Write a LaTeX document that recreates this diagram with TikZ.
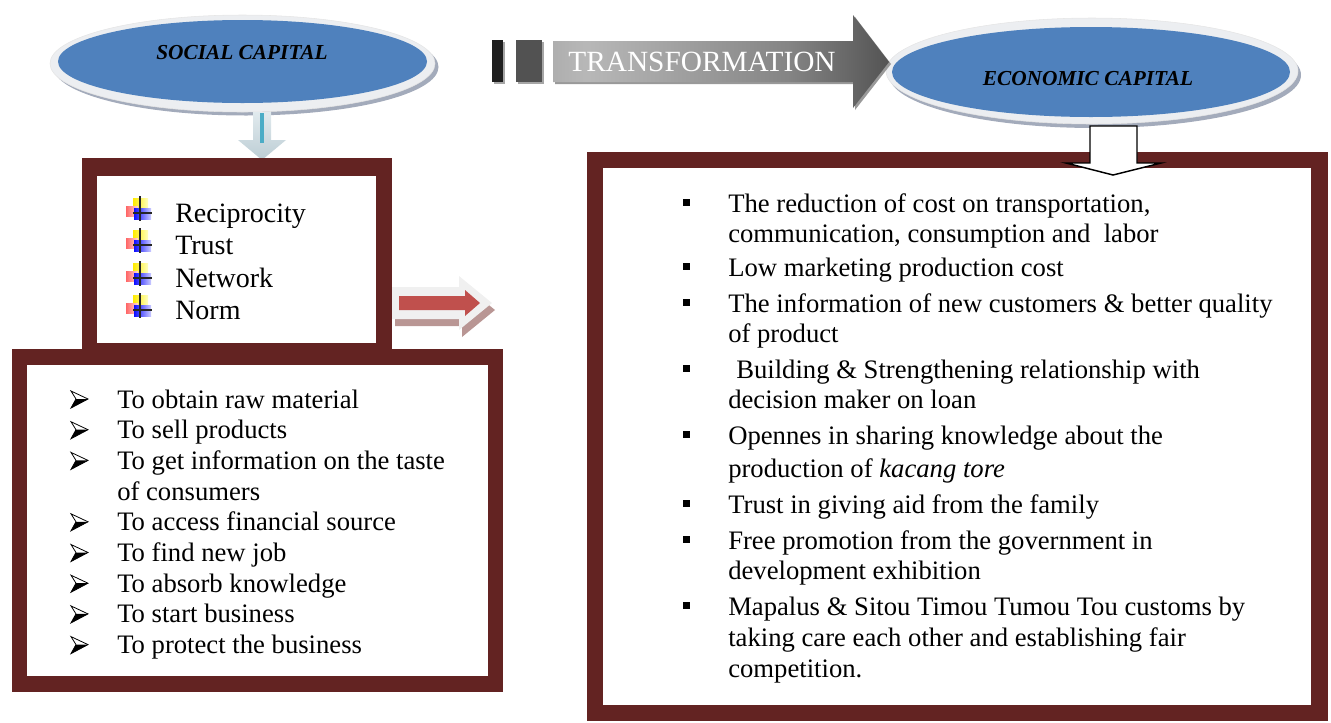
\documentclass[tikz,border=0pt]{standalone}
\usepackage{fontspec}
\setmainfont{Liberation Serif}
\usetikzlibrary{shapes.geometric}
\definecolor{frame}{RGB}{99,35,34}
\definecolor{capblue}{RGB}{79,129,189}
\definecolor{rim}{RGB}{236,238,241}
\definecolor{rimshadow}{RGB}{163,171,187}
\definecolor{arrowred}{RGB}{192,80,77}
\definecolor{arrowshadow}{RGB}{185,150,148}
\definecolor{teal}{RGB}{75,172,198}
\definecolor{downtop}{RGB}{225,234,238}
\definecolor{downbottom}{RGB}{188,205,212}
\pgfdeclarehorizontalshading{transfshade}{100bp}{color(0bp)=(black!50); color(30bp)=(black!28); color(60bp)=(black!48); color(85bp)=(black!80); color(100bp)=(black!72)}
\tikzset{
  capfont/.style={font=\fontsize{16}{19}\selectfont\bfseries\itshape, inner sep=0pt},
  boxtext/.style={font=\fontsize{20}{24}\selectfont, anchor=base west, inner sep=0pt},
  captext/.style={font=\fontsize{21}{25}\selectfont, anchor=base west, inner sep=0pt},
  rimshape/.style={ellipse, fill=rim, draw=black!10, inner sep=0pt},
  blueshape/.style={ellipse, fill=capblue, inner sep=0pt},
  shadowshape/.style={ellipse, fill=rimshadow, inner sep=0pt},
  pics/arrowbullet/.style={code={
    \fill[white] (0,-8) -- (17,0) -- (5,0) -- cycle;
    \fill[black] (5,0) -- (17,0) -- (0,9) -- cycle;
    \draw[line width=0.6pt, line join=miter] (0,-8) -- (17,0) -- (0,9) -- (5,0) -- cycle;
  }},
  pics/squarebullet/.style={code={
    \fill[black] (0,-3.5) rectangle (7,3.5);
  }},
  pics/capicon/.style={code={
    \shade[left color=yellow!85!orange, right color=yellow!25] (-7,-15) rectangle (8,-3);
    \shade[left color=red!60, right color=red!15] (-14,-7) rectangle (-2,3);
    \shade[left color=blue!95, right color=blue!20] (-6,-5) rectangle (11,6);
    \draw[line width=1.2pt, black!85] (0,-17) -- (0,8);
    \draw[line width=1.2pt, black!85] (-7,0) -- (12,0);
  }},
}
\begin{document}
\begin{tikzpicture}[x=0.75pt,y=-0.75pt]
\useasboundingbox (0,0) rectangle (1331,722);

% ---- SOCIAL CAPITAL ellipse
\node[shadowshape, minimum width=288.75pt, minimum height=72.75pt] (socialshadow) at (246,67) {};
\node[rimshape, minimum width=288.75pt, minimum height=72.75pt] (socialrim) at (242.5,63.5) {};
\node[blueshape, minimum width=276.75pt, minimum height=62.25pt] (social) at (242.5,61.5) {};
\node[capfont] (socialtext) at (242,53) {SOCIAL CAPITAL};

% ---- small down arrow below social capital
\shade[top color=downtop, bottom color=downbottom]
  (253,112) -- (271,112) -- (271,140) -- (286,140) -- (262,160) -- (238,140) -- (253,140) -- cycle;
\fill[teal] (259.5,113) rectangle (264,143);

% ---- ECONOMIC CAPITAL ellipse
\node[shadowshape, minimum width=309pt, minimum height=79.5pt] (econshadow) at (1095,75) {};
\node[rimshape, minimum width=309pt, minimum height=79.5pt] (econrim) at (1092,71) {};
\node[blueshape, minimum width=298.5pt, minimum height=67.5pt] (econ) at (1091,72) {};
\node[capfont] (econtext) at (1088,79) {ECONOMIC CAPITAL};

% ---- TRANSFORMATION arrow
\fill[black!35] (494,42) rectangle (505,84);
\fill[black!35] (518,42) rectangle (544,84);
\fill[black!88] (492,40) rectangle (503,82);
\fill[black!68] (516,40) rectangle (542,82);
\fill[black!40] (555,43) -- (855,43) -- (855,17) -- (891,64) -- (855,110) -- (855,84) -- (555,84) -- cycle;
\shade[shading=transfshade] (553,41) -- (853,41) -- (853,15) -- (889,62) -- (853,108) -- (853,82) -- (553,82) -- cycle;
\node[font=\fontsize{22}{26}\selectfont, text=white, inner sep=0pt] (transf) at (702,62) {TRANSFORMATION};

% ---- frames
\fill[frame] (12,349) rectangle (503,692);
\fill[white] (27,365) rectangle (488,676);
\fill[frame] (82,158) rectangle (392,349);
\fill[white] (97,176) rectangle (376,343);
\fill[frame] (587,152) rectangle (1328,721);
\fill[white] (603,168) rectangle (1311,705);

% ---- white arrow under economic capital
\draw[fill=white, line width=1.1pt, line join=miter]
  (1090,126) -- (1137,126) -- (1137,163) -- (1161,163) -- (1113,175) -- (1066,163) -- (1090,163) -- cycle;

% ---- red arrow between the left boxes
\fill[arrowshadow] (395,294) -- (462,294) -- (462,283) -- (495,310) -- (462,337) -- (462,326) -- (395,326) -- cycle;
\fill[black!6] (392,287) -- (459,287) -- (459,276) -- (492,303) -- (459,330) -- (459,319) -- (392,319) -- cycle;
\fill[arrowred] (399,296) -- (465,296) -- (465,290) -- (480,303) -- (465,316) -- (465,310) -- (399,310) -- cycle;

% ---- dimensions of social capital
\pic at (140,213) {capicon};
\pic at (140,245) {capicon};
\pic at (140,278) {capicon};
\pic at (140,310) {capicon};
\node[captext] (recip) at (175,222) {Reciprocity};
\node[captext] (trust) at (175,254) {Trust};
\node[captext] (network) at (175,287) {Network};
\node[captext] (norm) at (175,319) {Norm};

% ---- uses of social capital
\foreach \b in {408,438.7,469.4,530.8,561.5,592.2,622.9,653.6}
  \pic at (71,\b-9) {arrowbullet};
\node[boxtext] (u1) at (117,408) {To obtain raw material};
\node[boxtext] (u2) at (117,438.7) {To sell products};
\node[boxtext] (u3) at (117,469.4) {To get information on the taste};
\node[boxtext] (u3b) at (117,500.1) {of consumers};
\node[boxtext] (u4) at (117,530.8) {To access financial source};
\node[boxtext] (u5) at (117,561.5) {To find new job};
\node[boxtext] (u6) at (117,592.2) {To absorb knowledge};
\node[boxtext] (u7) at (117,622.9) {To start business};
\node[boxtext] (u8) at (117,653.6) {To protect the business};

% ---- economic outcomes
\foreach \b in {212,276,312,378,444,513,549,615}
  \pic at (683,\b-9.5) {squarebullet};
\node[boxtext] (e1) at (728,212) {The reduction of cost on transportation,};
\node[boxtext] (e1b) at (728,242) {communication, consumption and\ \ labor};
\node[boxtext] (e2) at (728,276) {Low marketing production cost};
\node[boxtext] (e3) at (728,312) {The information of new customers \& better quality};
\node[boxtext] (e3b) at (728,342) {of product};
\node[boxtext] (e4) at (736,378) {Building \& Strengthening relationship with};
\node[boxtext] (e4b) at (728,408) {decision maker on loan};
\node[boxtext] (e5) at (728,444) {Opennes in sharing knowledge about the};
\node[boxtext] (e5b) at (728,477) {production of \textit{kacang tore}};
\node[boxtext] (e6) at (728,513) {Trust in giving aid from the family};
\node[boxtext] (e7) at (728,549) {Free promotion from the government in};
\node[boxtext] (e7b) at (728,579) {development exhibition};
\node[boxtext] (e8) at (728,615) {Mapalus \& Sitou Timou Tumou Tou customs by};
\node[boxtext] (e8b) at (728,646) {taking care each other and establishing fair};
\node[boxtext] (e8c) at (728,677) {competition.};
\end{tikzpicture}
\end{document}
